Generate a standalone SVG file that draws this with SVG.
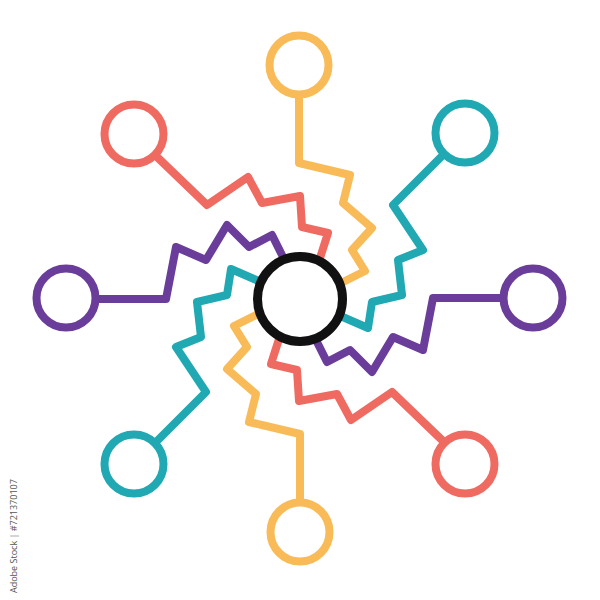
<svg xmlns="http://www.w3.org/2000/svg" width="600" height="600" viewBox="0 0 600 600">
  <style>
    .link { fill: none; stroke-width: 8; stroke-linejoin: round; stroke-linecap: butt; }
    .node { fill: #ffffff; stroke-width: 8; }
    .red { stroke: #EF6A61; }
    .yellow { stroke: #F8BB57; }
    .teal { stroke: #20A8B3; }
    .purple { stroke: #6A3D9A; }
    .hub { fill: #ffffff; stroke: #111111; stroke-width: 9; }
    .credit { font-family: "Open Sans", "Liberation Sans", sans-serif; font-size: 9px; fill: #555555; }
  </style>
  <rect width="600" height="600" fill="#ffffff"/>
  <defs>
    <path id="p-red" d="M155,155 L207,205 L248,177 L262,203 L300,196 L302,227 L328,233 L320,258 L316,270"/>
    <path id="p-yellow" d="M299,94 L299,163 L350,175 L343,203 L372,228 L352,250 L365,271 L343,282 L330,288"/>
    <path id="p-teal" d="M444,154 L393,205 L423,250 L398,260 L402,295 L372,302 L368,328 L345,318 L336,314"/>
    <path id="p-purple" d="M504,298 L433,298 L423,350 L393,337 L372,372 L350,350 L327,362 L317,342 L313,334"/>
  </defs>
  <g id="connectors">
    <use href="#p-red" class="link red"/>
    <use href="#p-yellow" class="link yellow"/>
    <use href="#p-teal" class="link teal"/>
    <use href="#p-purple" class="link purple"/>
    <use href="#p-red" class="link red" transform="rotate(180 299.5 298.5)"/>
    <use href="#p-yellow" class="link yellow" transform="rotate(180 299.5 298.5)"/>
    <use href="#p-teal" class="link teal" transform="rotate(180 299.5 298.5)"/>
    <use href="#p-purple" class="link purple" transform="rotate(180 299.5 298.5)"/>
  </g>
  <g id="node-center"><circle class="hub" cx="300" cy="299" r="42.5"/></g>
  <g id="node-top"><circle class="node yellow" cx="299" cy="65" r="29.5"/></g>
  <g id="node-top-right"><circle class="node teal" cx="465" cy="133" r="29.5"/></g>
  <g id="node-right"><circle class="node purple" cx="533" cy="298" r="29.5"/></g>
  <g id="node-bottom-right"><circle class="node red" cx="465" cy="464" r="29.5"/></g>
  <g id="node-bottom"><circle class="node yellow" cx="300" cy="532" r="29.5"/></g>
  <g id="node-bottom-left"><circle class="node teal" cx="134" cy="464" r="29.5"/></g>
  <g id="node-left"><circle class="node purple" cx="66" cy="298" r="29.5"/></g>
  <g id="node-top-left"><circle class="node red" cx="134" cy="134" r="29.5"/></g>
  <text class="credit" transform="translate(17,593) rotate(-90)">Adobe Stock | #721370107</text>
</svg>
